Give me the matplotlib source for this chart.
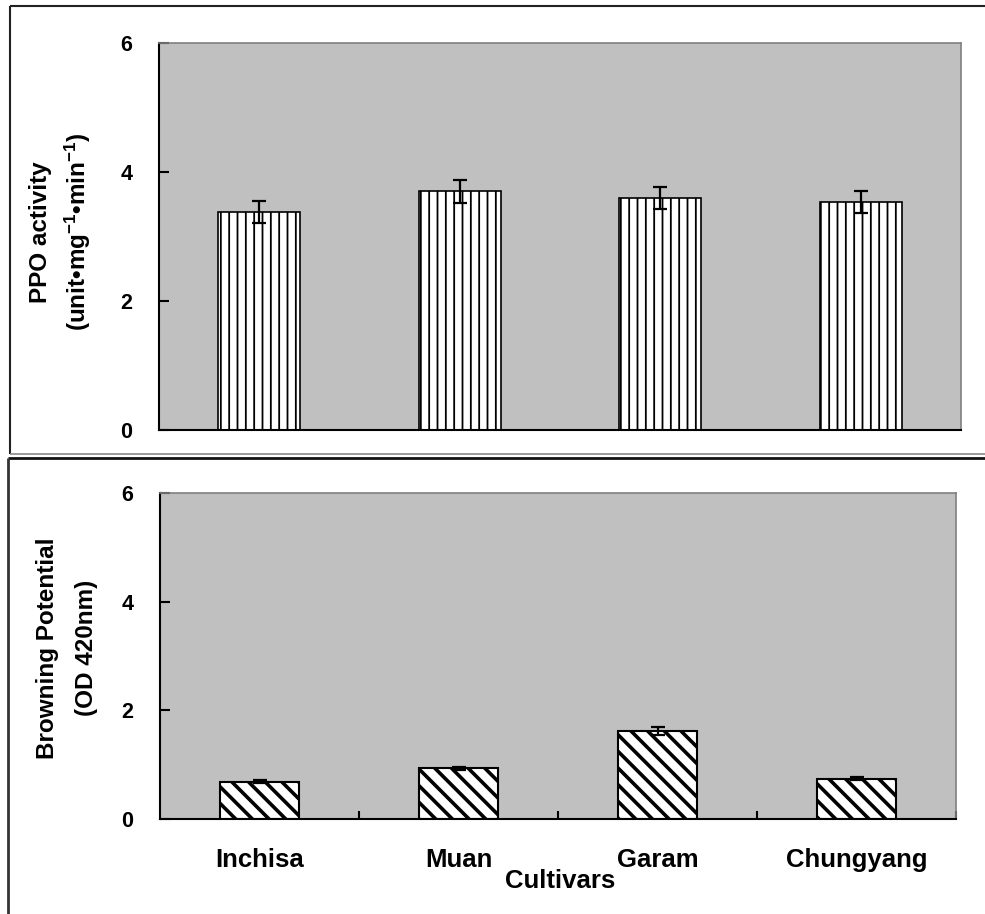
import matplotlib
matplotlib.use("Agg")
import matplotlib.pyplot as plt
from matplotlib.lines import Line2D
import numpy as np

# Data
cultivars = ["Inchisa", "Muan", "Garam", "Chungyang"]
ppo_activity = [3.38, 3.70, 3.60, 3.54]
ppo_err = [0.17, 0.18, 0.17, 0.17]
browning = [0.69, 0.93, 1.62, 0.74]
browning_err = [0.03, 0.03, 0.07, 0.03]
yticks = [0, 2, 4, 6]

plt.rcParams["font.family"] = ["Liberation Sans", "DejaVu Sans"]
plt.rcParams["font.weight"] = "bold"
plt.rcParams["mathtext.fontset"] = "custom"
plt.rcParams["mathtext.rm"] = "Liberation Sans:bold"
plt.rcParams["mathtext.bf"] = "Liberation Sans:bold"
plt.rcParams["mathtext.default"] = "bf"

W, H = 985, 914
fig = plt.figure(figsize=(W / 100, H / 100), dpi=100)
fig.patch.set_facecolor("white")


def fx(px):
    return px / W


def fy(py):
    return 1 - py / H


def rect(x0, y0, x1, y1):
    return [fx(x0), fy(y1), fx(x1) - fx(x0), fy(y0) - fy(y1)]


PLOT_BG = "#c0c0c0"
FRAME = "#808080"
x = np.arange(len(cultivars))


def style_axes(ax, ylabel_lines, ylabel_x, ylabel_y):
    ax.set_facecolor(PLOT_BG)
    ax.set_xlim(-0.5, len(cultivars) - 0.5)
    ax.set_ylim(0, 6)
    ax.set_yticks(yticks)
    ax.tick_params(axis="y", direction="in", length=7, width=1.5, pad=19,
                   labelsize=15.5, colors="black")
    for lbl in ax.get_yticklabels():
        lbl.set_fontweight("bold")
    ax.spines["left"].set_color("black")
    ax.spines["left"].set_linewidth(1.5)
    ax.spines["bottom"].set_color("black")
    ax.spines["bottom"].set_linewidth(1.5)
    ax.spines["top"].set_color(FRAME)
    ax.spines["right"].set_color(FRAME)
    ax.spines["top"].set_linewidth(1.2)
    ax.spines["right"].set_linewidth(1.2)
    for (txt, lx) in zip(ylabel_lines, ylabel_x):
        fig.text(fx(lx), fy(ylabel_y), txt, rotation=90, ha="center",
                 va="center", fontsize=17.5, fontweight="bold")


# Upper panel: PPO activity
ax1 = fig.add_axes(rect(159, 43, 961, 430))
bars1 = ax1.bar(x, ppo_activity, width=0.41, color="white", edgecolor="black",
                linewidth=1.2, hatch="||", zorder=2)
ax1.errorbar(x, ppo_activity, yerr=ppo_err, fmt="none", ecolor="black",
             elinewidth=1.6, capsize=5, capthick=1.6, zorder=3)
ax1.set_xticks([])
style_axes(ax1, ["PPO activity",
                 "(unit\u2022mg$^{-1}$\u2022min$^{-1}$)"], [41, 78], 232)

# Lower panel: browning potential
ax2 = fig.add_axes(rect(160, 493, 956, 819))
bars2 = ax2.bar(x, browning, width=0.40, color="white", edgecolor="black",
                linewidth=1.5, hatch="\\\\", zorder=2)
ax2.errorbar(x, browning, yerr=browning_err, fmt="none", ecolor="black",
             elinewidth=1.6, capsize=5, capthick=1.6, zorder=3)
ax2.set_xticks(x)
ax2.set_xticklabels(cultivars, fontsize=18.5, fontweight="bold")
ax2.tick_params(axis="x", which="major", length=0, pad=21)
ax2.set_xticks(np.arange(len(cultivars)) + 0.5, minor=True)
ax2.tick_params(axis="x", which="minor", direction="in", length=6, width=1.5)
style_axes(ax2, ["Browning Potential", "(OD 420nm)"], [48, 86], 648)

for b in bars1:
    if hasattr(b, "set_hatch_linewidth"):
        b.set_hatch_linewidth(1.3)
for b in bars2:
    if hasattr(b, "set_hatch_linewidth"):
        b.set_hatch_linewidth(2.6)

fig.text(fx(560), fy(881), "Cultivars", ha="center", va="center",
         fontsize=18.5, fontweight="bold")

# Panel frames
def fline(xs, ys, color, lw):
    fig.add_artist(Line2D([fx(v) for v in xs], [fy(v) for v in ys],
                          transform=fig.transFigure, color=color,
                          linewidth=lw, solid_capstyle="butt"))


fline([10, 985], [6, 6], "#222222", 1.5)
fline([10, 10], [6, 454], "#222222", 1.5)
fline([10, 985], [454, 454], "#888888", 1.2)
fline([8, 985], [458, 458], "#111111", 2.0)
fline([8, 8], [458, 914], "#333333", 2.0)

fig.savefig("out.png", dpi=100, facecolor="white")
